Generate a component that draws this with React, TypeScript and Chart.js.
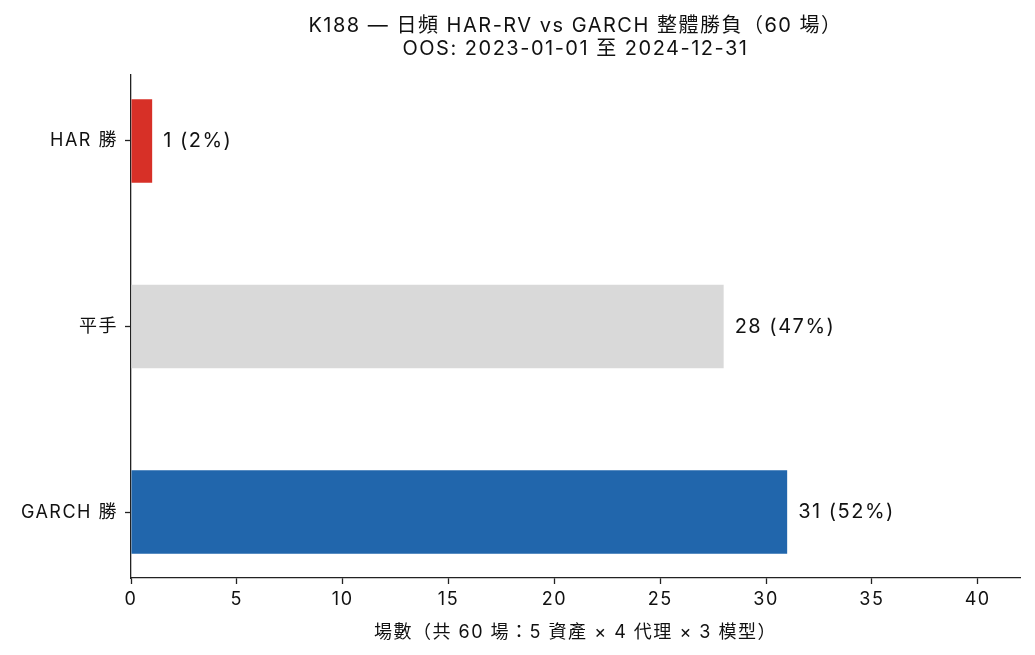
import React, { useEffect, useRef } from "react";
import { Chart, registerables } from "chart.js";

Chart.register(...registerables);

const categories = ["HAR 勝", "平手", "GARCH 勝"];
const counts = [1, 28, 31];
const total = 60;
const barColors = ["#d73027", "#d9d9d9", "#2166ac"];
const xTicks = [0, 5, 10, 15, 20, 25, 30, 35, 40];
const titleLines = ["K188 — 日頻 HAR-RV vs GARCH 整體勝負（60 場）", "OOS: 2023-01-01 至 2024-12-31"];
const xTitle = "場數（共 60 場：5 資產 × 4 代理 × 3 模型）";

const FONT = 'Inter, "Noto Sans CJK TC", sans-serif';
const SPACING = "1.5px";

const spacingPlugin = {
  id: "spacing",
  beforeLayout(chart: any) {
    chart.ctx.letterSpacing = SPACING;
  },
  beforeDraw(chart: any) {
    chart.ctx.letterSpacing = SPACING;
  },
};

const labelPlugin = {
  id: "barLabels",
  afterDatasetsDraw(chart: any) {
    const ctx = chart.ctx;
    const meta = chart.getDatasetMeta(0);
    ctx.save();
    ctx.letterSpacing = SPACING;
    ctx.font = `20px ${FONT}`;
    ctx.fillStyle = "#111";
    ctx.textAlign = "left";
    ctx.textBaseline = "middle";
    meta.data.forEach((el: any, i: number) => {
      const v = counts[i];
      const pct = Math.round((v / total) * 100);
      ctx.fillText(`${v} (${pct}%)`, el.x + 11, el.y);
    });
    ctx.restore();
  },
};

export default function App() {
  const ref = useRef<HTMLCanvasElement>(null);
  useEffect(() => {
    document.body.style.margin = "0";
    const chart = new Chart(ref.current!, {
      type: "bar",
      data: {
        datasets: [
          {
            data: counts.map((v, i) => ({ x: v, y: i })),
            backgroundColor: barColors,
            borderWidth: 0,
            categoryPercentage: 1,
            barPercentage: 0.45,
          },
        ],
      },
      options: {
        animation: false,
        responsive: false,
        indexAxis: "y",
        layout: { padding: { left: 0, right: 15, top: 0, bottom: 12 } },
        plugins: {
          legend: { display: false },
          tooltip: { enabled: false },
          title: {
            display: true,
            text: titleLines,
            fullSize: false,
            color: "#111",
            font: { family: FONT, size: 20, weight: "normal", lineHeight: 1.15 },
            padding: { top: 14, bottom: 15 },
          },
        },
        scales: {
          x: {
            type: "linear",
            min: 0,
            max: 42,
            afterBuildTicks: (scale: any) => {
              scale.ticks = xTicks.map((v) => ({ value: v }));
            },
            grid: { drawOnChartArea: false, tickLength: 6, color: "#222", tickWidth: 1.3 },
            border: { display: true, color: "#222", width: 1.3 },
            ticks: { color: "#111", font: { family: FONT, size: 18 }, padding: 5, maxRotation: 0 },
            title: {
              display: true,
              text: xTitle,
              color: "#111",
              font: { family: FONT, size: 18 },
              padding: { top: 2, bottom: 0 },
            },
            afterFit: (scale: any) => {
              scale.height = 65;
            },
          },
          y: {
            type: "linear",
            reverse: true,
            offset: false,
            min: -0.355,
            max: 2.355,
            afterBuildTicks: (scale: any) => {
              scale.ticks = categories.map((_, i) => ({ value: i }));
            },
            grid: { drawOnChartArea: false, offset: false, tickLength: 6, color: "#222", tickWidth: 1.3 },
            border: { display: true, color: "#222", width: 1.3 },
            ticks: {
              color: "#111",
              font: { family: FONT, size: 18 },
              padding: 7,
              callback: (v: any) => categories[Math.round(Number(v))] ?? "",
            },
            afterFit: (scale: any) => {
              scale.width = 131;
            },
          },
        },
      },
      plugins: [spacingPlugin, labelPlugin],
    } as any);
    return () => chart.destroy();
  }, []);
  return (
    <div style={{ position: "fixed", left: 0, top: 0, width: 1035, height: 655, background: "#fff" }}>
      <canvas ref={ref} width={1035} height={655} style={{ width: 1035, height: 655 }} />
    </div>
  );
}
